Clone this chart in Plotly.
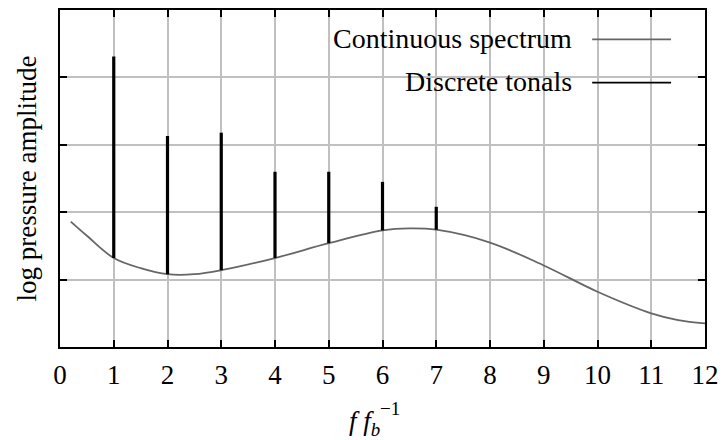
import plotly.graph_objects as go

# Continuous spectrum
curve_x = [0.2, 0.5, 1.0, 1.5, 2.0, 2.5, 3.0, 4.0, 5.0, 6.0, 6.5, 7.0, 8.0, 9.0, 10.0, 11.0, 11.5, 12.0]
curve_y = [1.86, 1.65, 1.32, 1.17, 1.08, 1.08, 1.14, 1.32, 1.54, 1.73, 1.76, 1.74, 1.55, 1.21, 0.82, 0.50, 0.40, 0.35]

# Discrete tonals
tonal_x = [1, 2, 3, 4, 5, 6, 7]
tonal_base = [1.32, 1.08, 1.14, 1.32, 1.54, 1.73, 1.74]
tonal_top = [4.31, 3.13, 3.18, 2.60, 2.60, 2.45, 2.08]

x_ticks = list(range(0, 13))
y_ticks = [0, 1, 2, 3, 4, 5]

FONT = "Liberation Serif"
GRID = "#c0c0c0"

tx, ty = [], []
for x, b, t in zip(tonal_x, tonal_base, tonal_top):
    tx += [x, x, None]
    ty += [b, t, None]

fig = go.Figure()
fig.add_trace(go.Scatter(x=curve_x, y=curve_y, mode="lines", line=dict(color="#666666", width=1.8, shape="spline"),
                         showlegend=False))
fig.add_trace(go.Scatter(x=tx, y=ty, mode="lines", line=dict(color="black", width=3.2), showlegend=False))

# legend box and entries
L, R, T, B = 60, 706, 8, 347
W, H = R - L, B - T
def px(x): return (x - L) / W
def py(y): return (B - y) / H

fig.add_shape(type="rect", xref="paper", yref="paper", x0=px(257), x1=px(690), y0=py(97), y1=py(16),
              fillcolor="white", line=dict(width=0), layer="between")
fig.add_shape(type="line", xref="paper", yref="paper", x0=px(593), x1=px(672), y0=py(37.5), y1=py(37.5),
              line=dict(color="#666666", width=1.8))
fig.add_shape(type="line", xref="paper", yref="paper", x0=px(593), x1=px(672), y0=py(81), y1=py(81),
              line=dict(color="black", width=1.8))
fig.add_annotation(xref="paper", yref="paper", x=px(575), y=py(37), text="Continuous spectrum", showarrow=False,
                   xanchor="right", yanchor="middle", font=dict(family=FONT, size=28, color="black"))
fig.add_annotation(xref="paper", yref="paper", x=px(575), y=py(80), text="Discrete tonals", showarrow=False,
                   xanchor="right", yanchor="middle", font=dict(family=FONT, size=28, color="black"))

# x-axis title
fig.add_annotation(xref="paper", yref="paper", x=px(382), y=py(423), text="<i>f f</i><sub><i>b</i></sub>",
                   showarrow=False, xanchor="right", yanchor="middle", font=dict(family=FONT, size=27, color="black"))
fig.add_annotation(xref="paper", yref="paper", x=px(378), y=py(409), text="−1",
                   showarrow=False, xanchor="left", yanchor="middle", font=dict(family=FONT, size=19, color="black"))

axis_common = dict(showgrid=True, gridcolor=GRID, gridwidth=1.5, showline=True, linecolor="black", linewidth=2,
                   mirror="ticks", ticks="inside", ticklen=7, tickwidth=1.5, tickcolor="black", zeroline=False)

fig.update_layout(
    width=727, height=440,
    margin=dict(l=L, r=727 - R, t=T, b=440 - B),
    plot_bgcolor="white", paper_bgcolor="white",
    font=dict(family=FONT, size=27, color="black"),
    xaxis=dict(range=[0, 12], tickvals=x_ticks, ticktext=[str(v) for v in x_ticks], ticklabelstandoff=3,
               tickfont=dict(family=FONT, size=27), **axis_common),
    yaxis=dict(range=[0, 5], tickvals=y_ticks, showticklabels=False,
               title=dict(text="log pressure amplitude", font=dict(family=FONT, size=27), standoff=14),
               **axis_common),
)

fig.write_html("out.html")
